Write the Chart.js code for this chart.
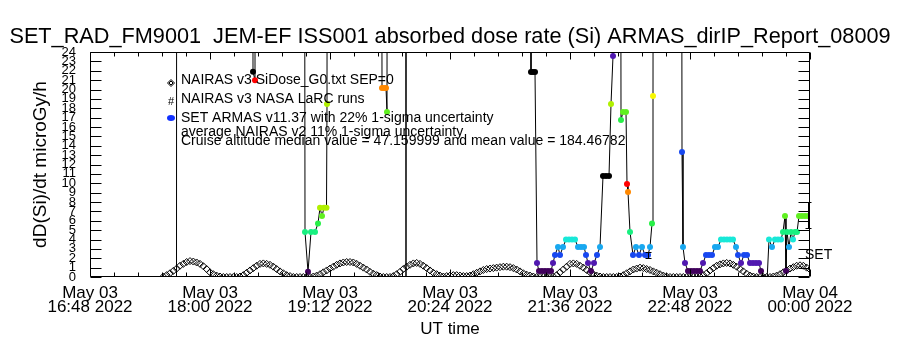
<!DOCTYPE html>
<html>
<head>
<meta charset="utf-8">
<script src="https://cdn.jsdelivr.net/npm/chart.js"></script>
<style>
html,body{margin:0;padding:0;background:#fff;}
canvas{display:block;}
</style>
</head>
<body>
<canvas id="c" width="900" height="350"></canvas>
<script>
// ---------------- data ----------------
const titleText = "SET_RAD_FM9001  JEM-EF ISS001 absorbed dose rate (Si) ARMAS_dirIP_Report_08009";
const yTitle = "dD(Si)/dt microGy/h";
const xTitle = "UT time";
// x in minutes since 2022-05-03 00:00 UT
const xTickValues = [1008, 1080, 1152, 1224, 1296, 1368, 1440];
const xTickLabels = [
  ["May 03", "16:48 2022"], ["May 03", "18:00 2022"], ["May 03", "19:12 2022"],
  ["May 03", "20:24 2022"], ["May 03", "21:36 2022"], ["May 03", "22:48 2022"],
  ["May 04", "00:00 2022"]
];
const yTickValues = [0,1,2,3,4,5,6,7,8,9,10,11,12,13,14,15,16,17,18,19,20,21,22,23,24];

// NAIRAS v3 model, one value every 2 minutes starting 17:32 UT
const nairasStart = 1052;
const nairasStep = 2;
const nairasDose = [
  0.05,0.2,0.4,0.65,0.9,1.2,1.4,1.6,1.7,1.65,
  1.55,1.4,1.15,0.85,0.5,0.3,0.15,0.05,0,0,
  0,0,0,0.05,0.2,0.45,0.7,0.95,1.2,1.4,
  1.45,1.4,1.3,1.1,0.85,0.6,0.4,0.2,0.1,0,
  0,0,0,0,0,0.05,0.15,0.3,0.5,0.7,
  0.9,1.1,1.3,1.45,1.55,1.6,1.6,1.55,1.4,1.2,
  1.0,0.8,0.55,0.35,0.2,0.05,0,0,0,0.1,
  0.3,0.55,0.85,1.1,1.3,1.45,1.5,1.4,1.2,0.95,
  0.7,0.45,0.3,0.15,0.05,0.1,0.15,0.2,0.2,0.15,
  0.1,0.1,0.15,0.3,0.45,0.6,0.75,0.85,0.9,0.95,
  1.0,1.05,1.1,1.1,1.05,0.95,0.8,0.6,0.4,0.25,
  0.15,0.05,0,0,0,0,0,0.05,0.2,0.5,
  0.8,1.1,1.4,1.45,1.4,1.2,1.0,0.75,0.5,0.3,
  0.15,0.05,0,0,0,0,0,0.05,0.2,0.4,
  0.6,0.8,0.9,1.0,0.95,0.85,0.75,0.6,0.45,0.3,
  0.15,0.05,0,0,0,0,0,0,0,0,
  0,0.05,0.2,0.4,0.7,0.95,1.2,1.35,1.45,1.5,
  1.45,1.3,1.1,0.85,0.6,0.35,0.15,0.05,0,0,
  0,0,0,0.05,0.15,0.3,0.5,0.7,0.9,1.05,
  1.2,1.25,1.2,1.0,0.8
];

// SET ARMAS measurements (minutes since 00:00 UT, dose rate)
const armasTime = [
  1059.9,1060.5,1074,1092,1104.6,1105.8,1107,1108.2,1122,1135.2,
  1137,1138.8,1140.6,1143,1144.8,1146,1147.2,1148.4,1149.9,1150.2,
  1151.4,1164,1181.4,1183.2,1184.4,1185.6,1186.2,1187.4,1196.4,1197.6,
  1198.8,1224,1254,1272,1272.6,1273.8,1275,1276.2,1277.4,1279.2,
  1281,1282.8,1284.6,1285.8,1287,1288.8,1290,1291.8,1293.6,1295.4,
  1297.2,1299,1300.8,1302.6,1304.4,1305.6,1306.8,1308.6,1310.4,1312.2,
  1314,1315.8,1317.6,1319.4,1320.6,1321.8,1323,1324.8,1326.6,1327.8,
  1329.6,1330.2,1330.8,1332,1333.8,1335.6,1337.4,1339.2,1341,1342.8,
  1344,1345.2,1345.8,1347,1361.4,1363.2,1363.8,1365,1366.8,1368.6,
  1370.4,1372.2,1374,1375.8,1377.6,1379.4,1381.2,1383,1384.8,1386.6,
  1388.4,1390.2,1392,1393.8,1395.6,1396.8,1398.6,1400.4,1402.2,1404,
  1405.8,1407.6,1409.4,1410.6,1414.2,1415.4,1417.2,1419,1420.8,1422.6,
  1423.8,1425,1425.6,1426.2,1427.4,1428.6,1429.8,1431,1432.2,1433.4,
  1435.2,1437,1438.8
];
const armasDose = [
  -1,300,300,300,300,21.9,21.0,300,300,300,
  4.8,0.55,4.8,4.8,5.7,7.4,6.5,7.4,7.4,18.45,
  300,300,300,20.16,20.16,20.16,17.6,300,300,-5,
  300,300,300,300,21.87,21.87,21.87,1.49,0.64,0.64,
  0.64,0.64,0.64,1.49,2.35,3.2,2.35,3.2,4.0,4.0,
  4.0,4.0,3.2,3.2,3.2,2.35,1.49,0.64,1.49,2.35,
  3.2,10.77,10.77,10.77,18.45,23.57,300,300,16.75,17.6,
  17.6,9.92,9.07,4.8,2.35,3.2,2.35,3.2,2.35,2.35,
  3.2,5.7,19.3,300,300,13.33,3.2,1.49,0.64,0.64,
  0.64,0.64,0.64,1.49,2.35,2.35,2.35,3.2,3.2,4.0,
  4.0,4.0,4.0,4.0,3.2,2.35,1.49,2.35,2.35,1.49,
  1.49,1.49,1.49,0.64,-0.5,4.0,3.2,4.0,4.0,4.0,
  4.8,6.5,0.64,4.8,3.2,4.8,4.0,4.8,4.8,6.5,
  6.5,6.5,6.5
];
// uncertainty bars
const errTime = [1342.8, 1438.8];
const errLow = [2.0, 5.25];
const errHigh = [2.7, 8.0];

const legendLabels = [
  "NAIRAS v3 SiDose_G0.txt SEP=0",
  "NAIRAS v3 NASA LaRC runs",
  "SET ARMAS v11.37 with 22% 1-sigma uncertainty",
  "average NAIRAS v2 11% 1-sigma uncertainty",
  "Cruise altitude median value = 47.159999 and mean value = 184.46782"
];
const sideLabel = "SET";

// ---------------- styles ----------------
const FONT = '"Liberation Sans", Arial, sans-serif';
Chart.defaults.font.family = FONT;
Chart.defaults.color = '#000';

const cmapStops = [
  [0,'#300040'],[0.64,'#40005c'],[1.49,'#5018b0'],[2.35,'#1848f0'],[3.2,'#18a8f0'],
  [4.0,'#18e8d8'],[4.8,'#18f080'],[5.7,'#28f048'],[6.5,'#60f020'],[7.4,'#b0f000'],
  [8.3,'#f8f800'],[9.07,'#ff8800'],[9.92,'#ff0000'],[10.77,'#000000'],[11.1,'#300040']
];
function doseColor(v){
  const w = ((v % 11.1) + 11.1) % 11.1;
  let best = cmapStops[0], d = 1e9;
  for (const s of cmapStops){ const dd = Math.abs(s[0]-w); if (dd < d){ d = dd; best = s; } }
  return best[1];
}

const framePlugin = {
  id: 'frame',
  afterDraw(chart){
    const {ctx, chartArea:a, scales:{x, y}} = chart;
    ctx.save();
    ctx.strokeStyle = '#000';
    ctx.lineWidth = 1;
    const L = Math.round(a.left)+0.5, R = Math.round(a.right)-0.5, T = Math.round(a.top)+0.5, B = Math.round(a.bottom)-0.5;
    ctx.beginPath();
    ctx.rect(L, T, R-L, B-T);
    y.ticks.forEach(t => {
      const py = Math.round(y.getPixelForValue(t.value)) + 0.5;
      ctx.moveTo(L, py); ctx.lineTo(L+11, py);
      ctx.moveTo(R, py); ctx.lineTo(R-11, py);
    });
    const minor = 14.4;
    for (let m = x.min, k = 0; m <= x.max + 0.01; m += minor, k++){
      const px = Math.round(x.getPixelForValue(m)) + 0.5;
      const len = (k % 5 === 0) ? 7 : 4;
      ctx.moveTo(px, T); ctx.lineTo(px, T+len);
      ctx.moveTo(px, B); ctx.lineTo(px, B-len);
    }
    ctx.stroke();
    ctx.restore();
  }
};

const annotPlugin = {
  id: 'annot',
  afterDatasetsDraw(chart){
    const {ctx, scales:{x, y}} = chart;
    ctx.save();
    ctx.strokeStyle = '#000';
    ctx.lineWidth = 1;
    errTime.forEach((t, i) => {
      const px = Math.round(x.getPixelForValue(t)) + 0.5;
      const y1 = Math.round(y.getPixelForValue(errLow[i])) + 0.5;
      const y2 = Math.round(y.getPixelForValue(errHigh[i])) + 0.5;
      ctx.beginPath();
      ctx.moveTo(px, y1); ctx.lineTo(px, y2);
      ctx.moveTo(px-3, y1); ctx.lineTo(px+3, y1);
      ctx.moveTo(px-3, y2); ctx.lineTo(px+3, y2);
      ctx.stroke();
    });
    // legend symbols
    ctx.beginPath();
    ctx.moveTo(171, 79.5); ctx.lineTo(174.5, 83); ctx.lineTo(171, 86.5); ctx.lineTo(167.5, 83); ctx.closePath();
    ctx.moveTo(171, 81); ctx.lineTo(173, 83); ctx.lineTo(171, 85); ctx.lineTo(169, 83); ctx.closePath();
    ctx.stroke();
    ctx.fillStyle = '#000';
    ctx.font = '11px ' + FONT;
    ctx.textAlign = 'center';
    ctx.textBaseline = 'middle';
    ctx.fillText('#', 171, 102);
    ctx.fillStyle = '#1030ff';
    ctx.beginPath();
    ctx.ellipse(171, 118, 4, 3, 0, 0, Math.PI*2);
    ctx.fill();
    // legend text
    ctx.fillStyle = '#000';
    ctx.font = '14px ' + FONT;
    ctx.textAlign = 'left';
    const rowsY = [80, 99.5, 118, 132, 141.5];
    legendLabels.forEach((t, i) => ctx.fillText(t, 181, rowsY[i]));
    ctx.fillText(sideLabel, 805, 255);
    ctx.restore();
  }
};

new Chart(document.getElementById('c'), {
  type: 'line',
  data: {
    datasets: [
      {
        label: 'SET ARMAS',
        data: armasTime.map((t, i) => ({x: t, y: armasDose[i]})),
        borderColor: '#000',
        borderWidth: 1,
        tension: 0,
        pointRadius: 3,
        pointBorderWidth: 0,
        pointBackgroundColor: c => doseColor(c.raw ? c.raw.y : 0),
        clip: 0
      },
      {
        label: 'NAIRAS',
        data: nairasDose.map((v, i) => ({x: nairasStart + i*nairasStep, y: v})),
        showLine: false,
        pointStyle: 'rectRot',
        pointRadius: 3.5,
        pointBorderWidth: 1,
        pointBorderColor: '#000',
        pointBackgroundColor: 'rgba(0,0,0,0)',
        clip: 0
      }
    ]
  },
  options: {
    responsive: false,
    animation: false,
    devicePixelRatio: 1,
    layout: {padding: 0},
    plugins: {
      legend: {display: false},
      tooltip: {enabled: false},
      title: {
        display: true, text: titleText, color: '#000',
        font: {family: FONT, size: 21.7, weight: 'normal', lineHeight: 1.2},
        padding: {top: 24.5, bottom: 1.46}
      }
    },
    scales: {
      x: {
        type: 'linear', min: 1008, max: 1440,
        afterBuildTicks: s => { s.ticks = xTickValues.map(v => ({value: v})); },
        afterFit: s => { s.height = 73; },
        ticks: {
          callback: (v, i) => xTickLabels[i],
          color: '#000', font: {size: 17, lineHeight: 0.8},
          padding: 10, maxRotation: 0, autoSkip: false
        },
        grid: {display: false, drawTicks: false},
        border: {display: false},
        title: {display: true, text: xTitle, color: '#000', font: {size: 17, lineHeight: 1.2}, padding: {top: 0, bottom: 10}}
      },
      y: {
        min: 0, max: 24,
        afterBuildTicks: s => { s.ticks = yTickValues.map(v => ({value: v})); },
        afterFit: s => { s.width = 90; },
        ticks: {autoSkip: false, color: '#000', font: {size: 13}, padding: 14, callback: v => String(v)},
        grid: {display: false, drawTicks: false},
        border: {display: false},
        title: {display: true, text: yTitle, color: '#000', font: {size: 19, lineHeight: 1.2}, padding: {top: 29, bottom: 0}}
      },
      yRight: {
        position: 'right', display: true, min: 0, max: 24,
        afterFit: s => { s.width = 90; },
        ticks: {display: false},
        grid: {display: false, drawTicks: false},
        border: {display: false}
      }
    }
  },
  plugins: [framePlugin, annotPlugin]
});
</script>
</body>
</html>
